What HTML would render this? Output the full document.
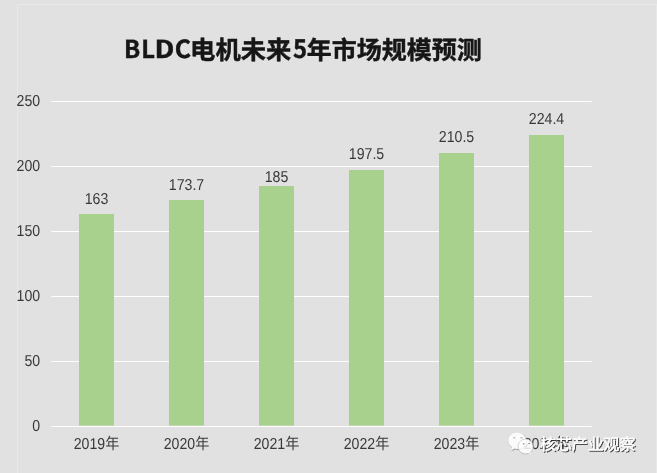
<!DOCTYPE html>
<html lang="zh-CN"><head><meta charset="utf-8"><title>BLDC电机未来5年市场规模预测</title>
<style>html,body{margin:0;padding:0;background:#e1e1e1;overflow:hidden}svg{display:block;will-change:transform}
.n{font-family:"Liberation Sans","Noto Sans CJK SC",sans-serif;font-size:15.80px;fill:#383838;text-rendering:geometricPrecision}
.t{font-family:"Noto Sans CJK SC","Liberation Sans",sans-serif;font-weight:700;font-size:25.3px;fill:#161616;stroke:#161616;stroke-width:0.45px;stroke-linejoin:round;text-rendering:geometricPrecision}
.w{font-family:"Noto Sans CJK SC","Liberation Sans",sans-serif;font-size:15.9px;text-rendering:geometricPrecision}
</style></head><body>
<svg width="657" height="473" viewBox="0 0 657 473">
<defs><filter id="sh" x="-10%" y="-20%" width="120%" height="150%"><feDropShadow dx="1" dy="1" stdDeviation="0.4" flood-color="#262626" flood-opacity="0.9"/></filter><filter id="sh2" x="-20%" y="-20%" width="140%" height="140%"><feDropShadow dx="0.5" dy="0.6" stdDeviation="0.3" flood-color="#444" flood-opacity="0.75"/></filter></defs>
<rect width="657" height="473" fill="#e1e1e1"/>
<path d="M17.5 473V4.5H657M656.5 4V473" fill="none" stroke="#e8e8e8" stroke-width="1"/>
<rect x="51.3" y="101" width="540.3" height="1" fill="#fefefe"/>
<rect x="51.3" y="166" width="540.3" height="1" fill="#fefefe"/>
<rect x="51.3" y="231" width="540.3" height="1" fill="#fefefe"/>
<rect x="51.3" y="296" width="540.3" height="1" fill="#fefefe"/>
<rect x="51.3" y="361" width="540.3" height="1" fill="#fefefe"/>
<rect x="51.3" y="426" width="540.3" height="1" fill="#fefefe"/>
<text class="n" text-anchor="end" transform="translate(40.2 106.3) scale(0.895 1.000)">250</text>
<text class="n" text-anchor="end" transform="translate(40.2 171.3) scale(0.895 1.000)">200</text>
<text class="n" text-anchor="end" transform="translate(40.2 236.3) scale(0.895 1.000)">150</text>
<text class="n" text-anchor="end" transform="translate(40.2 301.3) scale(0.895 1.000)">100</text>
<text class="n" text-anchor="end" transform="translate(40.2 366.3) scale(0.895 1.000)">50</text>
<text class="n" text-anchor="end" transform="translate(40.2 431.3) scale(0.895 1.000)">0</text>
<rect x="79" y="214" width="35" height="211.6" fill="#a9d18e"/>
<text class="n" text-anchor="middle" transform="translate(96.5 204.0) scale(0.895 1.000)">163</text>
<text class="n" text-anchor="middle" transform="translate(96.5 448.8) scale(0.895 1.000)">2019年</text>
<rect x="169" y="200" width="35" height="225.6" fill="#a9d18e"/>
<text class="n" text-anchor="middle" transform="translate(186.5 189.8) scale(0.895 1.000)">173.7</text>
<text class="n" text-anchor="middle" transform="translate(186.5 448.8) scale(0.895 1.000)">2020年</text>
<rect x="259" y="186" width="35" height="239.6" fill="#a9d18e"/>
<text class="n" text-anchor="middle" transform="translate(276.5 182.0) scale(0.895 1.000)">185</text>
<text class="n" text-anchor="middle" transform="translate(276.5 448.8) scale(0.895 1.000)">2021年</text>
<rect x="349" y="170" width="35" height="255.6" fill="#a9d18e"/>
<text class="n" text-anchor="middle" transform="translate(366.5 159.0) scale(0.895 1.000)">197.5</text>
<text class="n" text-anchor="middle" transform="translate(366.5 448.8) scale(0.895 1.000)">2022年</text>
<rect x="439" y="153" width="35" height="272.6" fill="#a9d18e"/>
<text class="n" text-anchor="middle" transform="translate(456.5 142.0) scale(0.895 1.000)">210.5</text>
<text class="n" text-anchor="middle" transform="translate(456.5 448.8) scale(0.895 1.000)">2023年</text>
<rect x="529" y="135" width="35" height="290.6" fill="#a9d18e"/>
<text class="n" text-anchor="middle" transform="translate(546.5 124.1) scale(0.895 1.000)">224.4</text>
<text class="n" text-anchor="middle" transform="translate(546.5 448.8) scale(0.895 1.000)">2024年</text>
<text class="t"><tspan x="124" y="58.1" style="font-size:24.8px" textLength="16.20" lengthAdjust="spacingAndGlyphs">B</tspan><tspan x="141.2" y="58.1" style="font-size:24.8px" textLength="13.76" lengthAdjust="spacingAndGlyphs">L</tspan><tspan x="154.5" y="58.1" style="font-size:24.8px" textLength="19.88" lengthAdjust="spacingAndGlyphs">D</tspan><tspan x="174.7" y="58.1" style="font-size:24.8px">C</tspan><tspan x="190.1" y="59.1">电机未来</tspan><tspan x="292.9" y="58.4" textLength="14.04" lengthAdjust="spacingAndGlyphs">5</tspan><tspan x="306.8" y="59" style="font-size:25px">年市场规模预测</tspan></text>
<g filter="url(#sh2)">
<path d="M517.2 432.4c4.9 0 8.8 3.7 8.8 8.3s-3.900 8.300-8.800 8.300c-.9 0-1.800-.1-2.600-.4l-3.500 1.700.9-3.300c-2.200-1.500-3.600-3.800-3.600-6.300 0-4.600 3.900-8.300 8.800-8.300z" fill="#fff" fill-opacity="0.95"/>
</g>
<ellipse cx="525.7" cy="446.6" rx="7.6" ry="7.4" fill="none" stroke="#b4b4b4" stroke-width="0.9"/>
<path d="M525.6 439.3c4 0 7.200 3.200 7.200 7.100 0 2.200-1 4.200-2.700 5.500l.9 2.400-2.900-1.300c-.8.300-1.600.4-2.500.4-4 0-7.200-3.100-7.200-7s3.200-7.100 7.200-7.100z" fill="#fff" fill-opacity="0.84"/>
<rect x="513.2" y="437.1" width="2.2" height="1.3" rx=".6" fill="#b9b9b9"/><rect x="520.4" y="437.1" width="2.2" height="1.3" rx=".6" fill="#b9b9b9"/>
<rect x="522.8" y="443.2" width="1.9" height="1.2" rx=".6" fill="#8a8a8a"/><rect x="528.3" y="442.9" width="1.9" height="1.2" rx=".6" fill="#8a8a8a"/>
<text class="w" x="540.0" y="450.3" fill="#fff" stroke="#fff" stroke-width="0.35" filter="url(#sh)">核芯产业观察</text>
</svg></body></html>
